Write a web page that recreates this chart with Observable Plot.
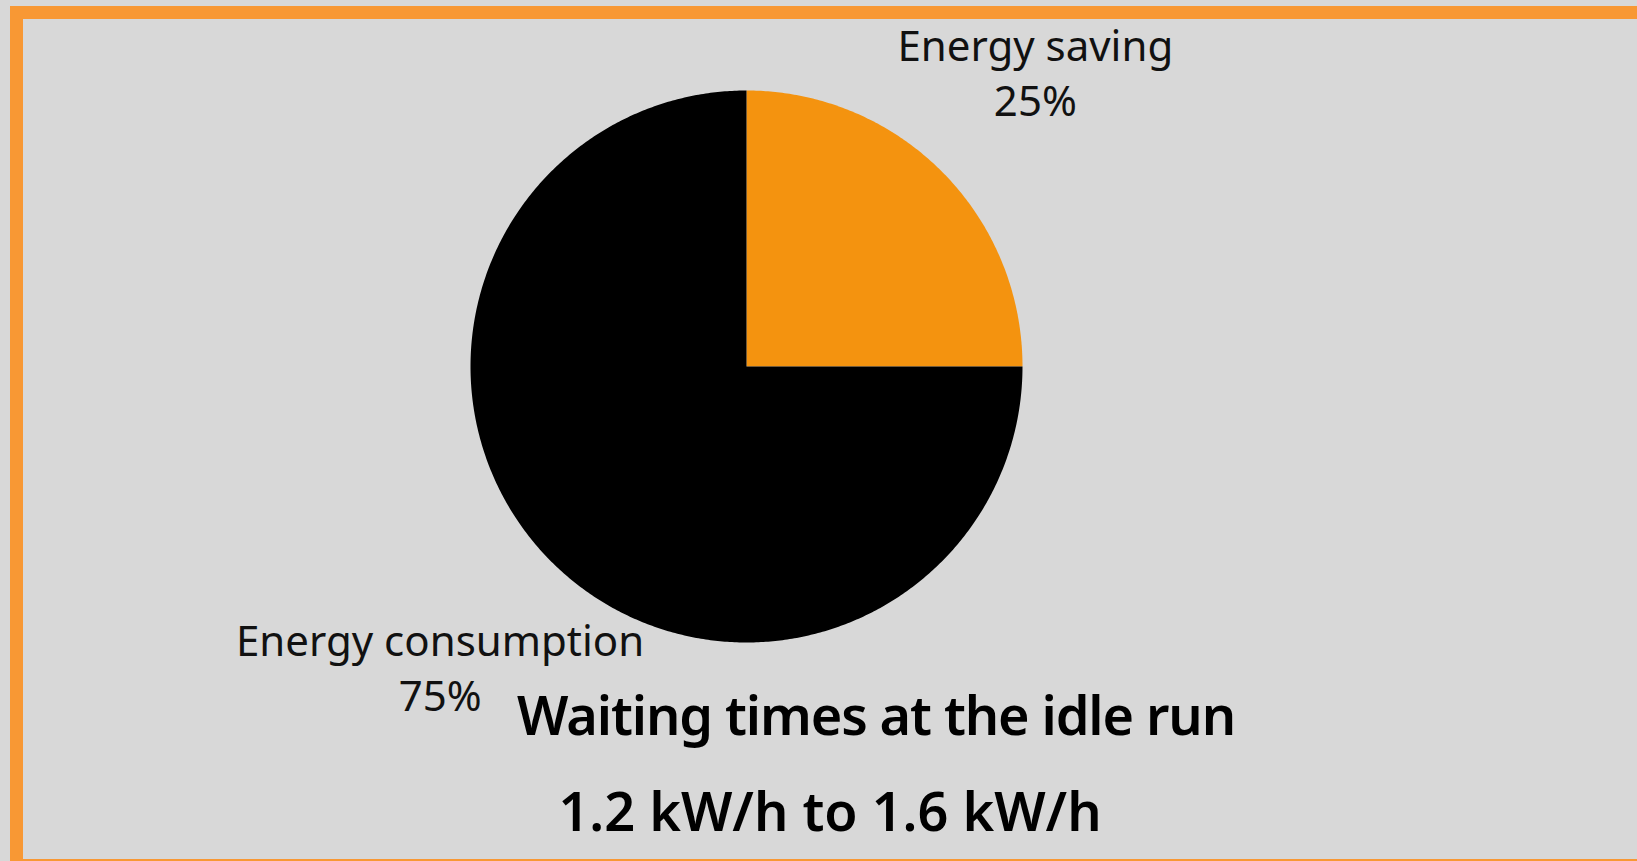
<!DOCTYPE html>
<html><head><meta charset="utf-8">
<script src="https://cdn.jsdelivr.net/npm/d3@7"></script>
<script src="https://cdn.jsdelivr.net/npm/@observablehq/plot@0.6"></script>
<style>
html,body{margin:0;padding:0;background:#d8d8d8;overflow:hidden;}
#wrap{position:relative;width:1637px;height:861px;overflow:hidden;background:#d8d8d8;}
#frame{position:absolute;left:10px;top:6px;width:1700px;height:866px;border:13px solid #f89834;box-sizing:border-box;}
#chart{position:absolute;left:0;top:0;}
#titles{position:absolute;left:0;top:0;}
</style>
</head><body>
<div id="wrap"><div id="frame"></div><div id="chart"></div><svg id="titles" width="1637" height="861"></svg></div>
<script>
const categories = ["Energy saving", "Energy consumption"];
const shares = [25, 75];
const colors = ["#f4930f", "#000000"];
const titleLines = ["Waiting times at the idle run", "1.2 kW/h to 1.6 kW/h"];

const arcs = d3.pie().sort(null).value(d => d.value)(
  categories.map((c, i) => ({category: c, value: shares[i]}))
);
const outline = arcs.flatMap(a => {
  const n = Math.max(2, Math.ceil((a.endAngle - a.startAngle) / (Math.PI / 360)));
  const pts = [{category: a.data.category, x: 0, y: 0}];
  for (let i = 0; i <= n; i++) {
    const t = a.startAngle + (a.endAngle - a.startAngle) * i / n;
    pts.push({category: a.data.category, x: Math.sin(t), y: Math.cos(t)});
  }
  pts.push({category: a.data.category, x: 0, y: 0});
  return pts;
});
const labels = arcs.map((a, i) => {
  const mid = (a.startAngle + a.endAngle) / 2;
  const k = i === 0 ? 1.48 : 1.57;
  return {text: `${a.data.category}\n${a.data.value}%`, x: k * Math.sin(mid), y: k * Math.cos(mid)};
});

const plot = Plot.plot({
  width: 1637, height: 861,
  marginLeft: 470, marginRight: 615, marginTop: 90, marginBottom: 219,
  x: {domain: [-1, 1], axis: null},
  y: {domain: [-1, 1], axis: null},
  color: {domain: categories, range: colors},
  style: {background: "transparent", fontFamily: "'Noto Sans', sans-serif", overflow: "visible"},
  marks: [
    Plot.line(outline, {x: "x", y: "y", z: "category", fill: "category", stroke: "none"}),
    Plot.text(labels, {x: "x", y: "y", text: "text", fontSize: 42, lineHeight: 1.31, dy: -7, fill: "#111"})
  ]
});
document.getElementById("chart").appendChild(plot);

const t = d3.select("#titles");
t.append("text").attr("x", 876).attr("y", 735).attr("text-anchor", "middle")
  .attr("font-family", "'Noto Sans', sans-serif").attr("font-weight", 600).attr("font-size", 54)
  .attr("letter-spacing", "-1.1px")
  .attr("fill", "#000").text(titleLines[0]);
t.append("text").attr("x", 830).attr("y", 831).attr("text-anchor", "middle")
  .attr("font-family", "'Noto Sans', sans-serif").attr("font-weight", 600).attr("font-size", 54)
  .attr("fill", "#000").text(titleLines[1]);
</script>
</body></html>
